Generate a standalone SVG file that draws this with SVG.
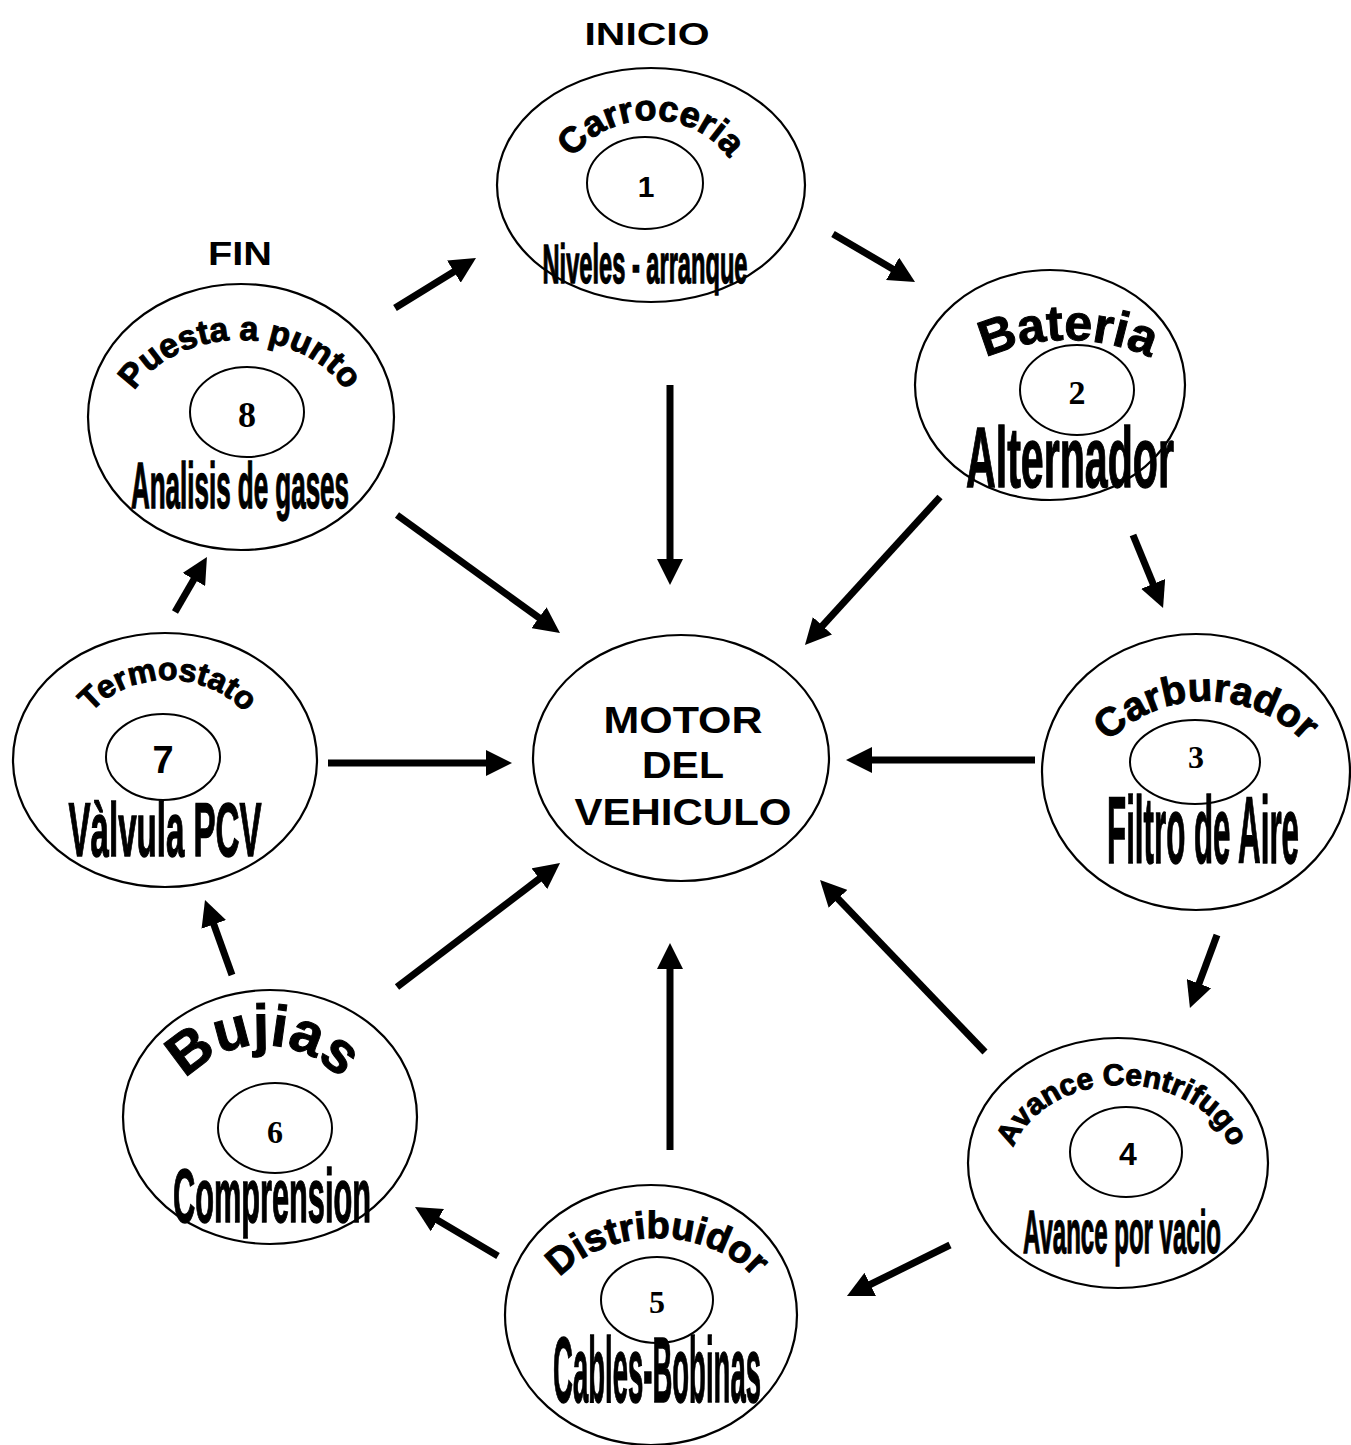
<svg xmlns="http://www.w3.org/2000/svg" width="1351" height="1445" viewBox="0 0 1351 1445">
<style>
.node{fill:#fff;stroke:#000;stroke-width:2.2}
.inner{fill:none;stroke:#000;stroke-width:2}
.arc{font-family:"Liberation Sans",Arial,sans-serif;font-weight:bold;fill:#000;stroke:#000;stroke-width:1}
.low{font-family:"Liberation Sans",Arial,sans-serif;font-weight:bold;fill:#000;stroke:#000;stroke-width:1.4;text-anchor:middle}
.numS{font-family:"Liberation Serif","Times New Roman",serif;font-weight:bold;text-anchor:middle;fill:#000}
.numA{font-family:"Liberation Sans",Arial,sans-serif;font-weight:bold;text-anchor:middle;fill:#000}
.title{font-family:"Liberation Sans",Arial,sans-serif;font-weight:bold;text-anchor:middle;fill:#000}
.conn line{stroke:#000;stroke-width:7;marker-end:url(#ah)}
</style>
<defs>
<marker id="ah" markerUnits="userSpaceOnUse" viewBox="0 0 26 26" markerWidth="26" markerHeight="26" refX="8" refY="13" orient="auto">
<path d="M0,0 L26,13 L0,26 z" fill="#000"/>
</marker>
<path id="p1" d="M561,197 A90,77 0 0 1 741,197"/>
<path id="p2" d="M878,520 A190,180 0 0 1 1258,520"/>
<path id="p3" d="M1070,835 A136,134 0 0 1 1342,835"/>
<path id="p4" d="M1009,1172 A113,87 0 0 1 1235,1172"/>
<path id="p5" d="M539,1330 A118,92 0 0 1 775,1330"/>
<path id="p6" d="M163,1140 A100,95 0 0 1 363,1140"/>
<path id="p7" d="M73,760 A95,80 0 0 1 263,760"/>
<path id="p8" d="M122,432 A118,92 0 0 1 358,432"/>
</defs>

<text class="title" x="647" y="45" font-size="32" textLength="125" lengthAdjust="spacingAndGlyphs">INICIO</text>
<text class="title" x="240" y="265" font-size="34" textLength="64" lengthAdjust="spacingAndGlyphs">FIN</text>

<g id="conectores" class="conn">
<line x1="395" y1="308" x2="460.7" y2="267.4"/>
<line x1="833" y1="234" x2="899.5" y2="272.9"/>
<line x1="670" y1="385" x2="670" y2="567"/>
<line x1="940" y1="497" x2="817.1" y2="631.7"/>
<line x1="1133" y1="535" x2="1156.2" y2="591.3"/>
<line x1="1035" y1="760" x2="864" y2="760"/>
<line x1="1217" y1="935" x2="1196.2" y2="991.1"/>
<line x1="985" y1="1052" x2="832.5" y2="893"/>
<line x1="950" y1="1245" x2="863.1" y2="1288"/>
<line x1="670" y1="1150" x2="670" y2="961"/>
<line x1="498" y1="1256" x2="430.5" y2="1216.1"/>
<line x1="397" y1="987" x2="545.7" y2="873.9"/>
<line x1="232" y1="975" x2="211.1" y2="916.9"/>
<line x1="328" y1="763" x2="494" y2="763"/>
<line x1="175" y1="612" x2="197.9" y2="572.6"/>
<line x1="397" y1="515" x2="545.4" y2="622.4"/>
</g>

<g id="motor">
<ellipse class="node" cx="681" cy="758" rx="148" ry="123"/>
<text class="title" x="683" y="733" font-size="36" textLength="159" lengthAdjust="spacingAndGlyphs">MOTOR</text>
<text class="title" x="683" y="778" font-size="36" textLength="82" lengthAdjust="spacingAndGlyphs">DEL</text>
<text class="title" x="683" y="825" font-size="36" textLength="217" lengthAdjust="spacingAndGlyphs">VEHICULO</text>
</g>

<g id="n1">
<ellipse class="node" cx="651" cy="185" rx="154" ry="117"/>
<ellipse class="inner" cx="645" cy="183" rx="58" ry="46"/>
<text class="numA" x="646" y="197" font-size="30">1</text>
<text class="arc" font-size="36"><textPath href="#p1" startOffset="50%" text-anchor="middle">Carroceria</textPath></text>
<text class="low" x="645" y="283" font-size="56" textLength="205" lengthAdjust="spacingAndGlyphs">Niveles - arranque</text>
</g>

<g id="n2">
<ellipse class="node" cx="1050" cy="385" rx="135" ry="115"/>
<ellipse class="inner" cx="1077" cy="390" rx="57" ry="45"/>
<text class="numS" x="1077" y="404" font-size="34">2</text>
<text class="arc" font-size="50"><textPath href="#p2" startOffset="50%" text-anchor="middle">Bateria</textPath></text>
<text class="low" x="1070" y="487" font-size="86" textLength="208" lengthAdjust="spacingAndGlyphs">Alternador</text>
</g>

<g id="n3">
<ellipse class="node" cx="1196" cy="772" rx="154" ry="138"/>
<ellipse class="inner" cx="1195" cy="762" rx="65" ry="42"/>
<text class="numS" x="1196" y="768" font-size="32">3</text>
<text class="arc" font-size="40"><textPath href="#p3" startOffset="50%" text-anchor="middle">Carburador</textPath></text>
<text class="low" x="1203" y="863" font-size="94" textLength="192" lengthAdjust="spacingAndGlyphs">Filtro de Aire</text>
</g>

<g id="n4">
<ellipse class="node" cx="1118" cy="1163" rx="150" ry="125"/>
<ellipse class="inner" cx="1126" cy="1152" rx="56" ry="45"/>
<text class="numA" x="1128" y="1165" font-size="32">4</text>
<text class="arc" font-size="30"><textPath href="#p4" startOffset="50%" text-anchor="middle">Avance Centrifugo</textPath></text>
<text class="low" x="1122" y="1253" font-size="62" textLength="198" lengthAdjust="spacingAndGlyphs">Avance por vacio</text>
</g>

<g id="n5">
<ellipse class="node" cx="651" cy="1315" rx="146" ry="130"/>
<ellipse class="inner" cx="657" cy="1300" rx="56" ry="43"/>
<text class="numS" x="657" y="1313" font-size="32">5</text>
<text class="arc" font-size="38"><textPath href="#p5" startOffset="50%" text-anchor="middle">Distribuidor</textPath></text>
<text class="low" x="657" y="1402" font-size="92" textLength="208" lengthAdjust="spacingAndGlyphs">Cables-Bobinas</text>
</g>

<g id="n6">
<ellipse class="node" cx="270" cy="1117" rx="147" ry="127"/>
<ellipse class="inner" cx="275" cy="1128" rx="57" ry="45"/>
<text class="numS" x="275" y="1143" font-size="32">6</text>
<text class="arc" font-size="58"><textPath href="#p6" startOffset="50%" text-anchor="middle">Bujias</textPath></text>
<text class="low" x="272" y="1222" font-size="76" textLength="198" lengthAdjust="spacingAndGlyphs">Comprension</text>
</g>

<g id="n7">
<ellipse class="node" cx="165" cy="760" rx="152" ry="127"/>
<ellipse class="inner" cx="163" cy="757" rx="57" ry="43"/>
<text class="numA" x="163" y="773" font-size="38" font-weight="normal">7</text>
<text class="arc" font-size="32"><textPath href="#p7" startOffset="50%" text-anchor="middle">Termostato</textPath></text>
<text class="low" x="165" y="856" font-size="76" textLength="193" lengthAdjust="spacingAndGlyphs">Vàlvula PCV</text>
</g>

<g id="n8">
<ellipse class="node" cx="241" cy="417" rx="153" ry="133"/>
<ellipse class="inner" cx="247" cy="412" rx="57" ry="45"/>
<text class="numS" x="247" y="427" font-size="36">8</text>
<text class="arc" font-size="34"><textPath href="#p8" startOffset="50%" text-anchor="middle">Puesta a punto</textPath></text>
<text class="low" x="240" y="508" font-size="64" textLength="218" lengthAdjust="spacingAndGlyphs">Analisis de gases</text>
</g>
</svg>
